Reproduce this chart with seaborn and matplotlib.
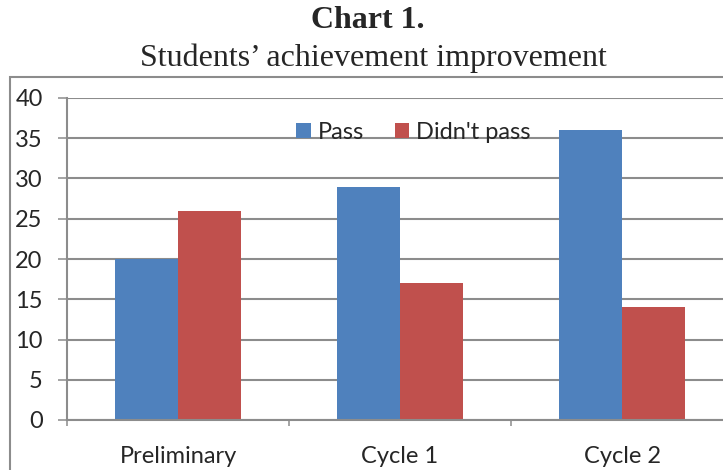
import matplotlib
matplotlib.use("Agg")
import matplotlib.pyplot as plt
import seaborn as sns
import pandas as pd
from matplotlib.patches import Rectangle

# data
stages = ["Preliminary", "Cycle 1", "Cycle 2"]
passed = [20, 29, 36]
not_passed = [26, 17, 14]
series_names = ["Pass", "Didn't pass"]
colors = ["#4F81BD", "#C0504D"]
y_ticks = [0, 5, 10, 15, 20, 25, 30, 35, 40]

df = pd.DataFrame({
    "stage": stages * 2,
    "result": [series_names[0]] * 3 + [series_names[1]] * 3,
    "count": passed + not_passed,
})

sns.set_style("white")
plt.rcParams["font.family"] = ["Lato", "DejaVu Sans"]

fig = plt.figure(figsize=(7.23, 4.70), dpi=100)
ax = fig.add_axes([67 / 723, 50 / 470, 666 / 723, 322 / 470])

sns.barplot(data=df, x="stage", y="count", hue="result", palette=colors,
            width=0.572, gap=0, saturation=1, linewidth=0, ax=ax)

ax.set_xlim(-0.5, 2.5)
ax.set_ylim(0, 40)
ax.set_yticks(y_ticks)
ax.yaxis.grid(True, color="#8c8c8c", linewidth=1.5)
ax.set_axisbelow(True)
ax.set_xlabel("")
ax.set_ylabel("")

for side in ["top", "right"]:
    ax.spines[side].set_visible(False)
for side in ["left", "bottom"]:
    ax.spines[side].set_color("#8c8c8c")
    ax.spines[side].set_linewidth(1.5)

ax.tick_params(axis="y", labelsize=17, length=6.5, width=1.1, color="#8c8c8c",
               pad=11, left=True, direction="out")
ax.set_xticks([-0.5, 0.5, 1.5, 2.5], minor=True)
ax.tick_params(axis="x", which="major", length=0, labelsize=17, pad=19)
ax.tick_params(axis="x", which="minor", length=4, width=1.1, color="#8c8c8c",
               direction="out", bottom=True)

ax.legend(loc="upper left", bbox_to_anchor=(220 / 666, 0.955), ncol=2, frameon=False,
          fontsize=17, handlelength=0.6, handleheight=0.6, handletextpad=0.3,
          columnspacing=1.3, borderaxespad=0)

fig.text(368 / 723, 1 - 20 / 470, "Chart 1.", ha="center", va="center",
         family="Liberation Serif", fontweight="bold", fontsize=23)
fig.text(373 / 723, 1 - 58 / 470, "Students\u2019 achievement improvement", ha="center",
         va="center", family="Liberation Serif", fontsize=23)

fig.add_artist(Rectangle((10 / 723, -0.05), 1.0, 1 - 77 / 470 + 0.05,
                         transform=fig.transFigure, fill=False,
                         edgecolor="#8c8c8c", linewidth=1.5))

fig.savefig("out.png", dpi=100)
